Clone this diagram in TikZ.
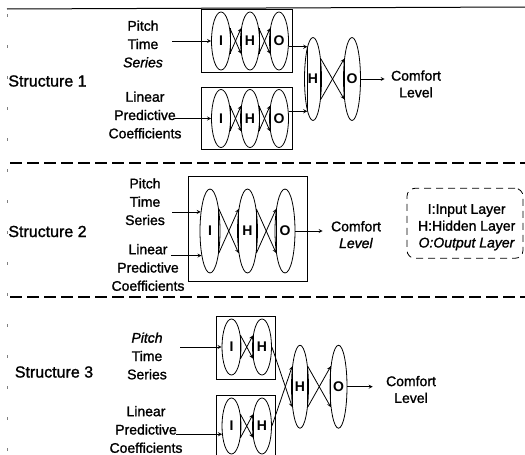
\documentclass[tikz,border=0pt]{standalone}
\usepackage{fontspec}
\setmainfont{Liberation Sans}[UprightFeatures={FakeBold=1.3}, ItalicFeatures={FakeBold=1.3}]
\usetikzlibrary{shapes,arrows,positioning,calc}

\begin{document}
\begin{tikzpicture}[
    x=1pt, y=-1pt,
    line width=0.8pt,
    node distance=29pt,
    every node/.style={align=center},
    txt/.style={font=\fontsize{14}{18.3}\selectfont, inner sep=1pt},
    outtxt/.style={font=\fontsize{14}{16.8}\selectfont, inner sep=1pt},
    structtxt/.style={font=\fontsize{16}{18}\selectfont, inner sep=1pt},
    layer/.style={ellipse, draw, inner sep=0pt, font=\bfseries\fontsize{14}{15}\selectfont},
    smalllayer/.style={layer, minimum width=19pt, minimum height=58pt},
    shortlayer/.style={layer, minimum width=19pt, minimum height=56pt},
    widelayer/.style={layer, minimum width=20pt, minimum height=84pt},
    biglayer/.style={layer, minimum width=17pt, minimum height=83pt},
    netbox/.style={rectangle, draw, inner sep=0pt},
    arrow/.style={->,>=stealth},
    separator/.style={line width=1.4pt, dash pattern=on 12pt off 5pt}
]
\useasboundingbox (0,0) rectangle (525,455);

% Frame and separators
\draw[line width=1pt] (7,9) -- (525,7);
\draw[gray, line width=0.6pt, dash pattern=on 3pt off 28pt] (7,14) -- (7,455);
\draw[separator] (10,163) -- (525,163);
\draw[separator] (10,297) -- (525,297);

% Structure 1
\node[structtxt] (struct1) at (47.5,81) {Structure 1};
\node[txt] (pitch1) at (143,44) {Pitch\\Time\\\textit{Series}};
\node[txt] (lpc1) at (145,115) {Linear\\Predictive\\Coefficients};
\node[netbox, minimum width=91pt, minimum height=63pt] (box1a) at (247.2,40.5) {};
\node[netbox, minimum width=91pt, minimum height=62pt] (box1b) at (247.2,118.2) {};
\node[smalllayer] (i1a) at (221,41) {I};
\node[smalllayer, right of=i1a] (h1a) {H};
\node[smalllayer, right of=h1a] (o1a) {O};
\node[smalllayer, below of=i1a, node distance=77.5pt] (i1b) {I};
\node[smalllayer, right of=i1b] (h1b) {H};
\node[smalllayer, right of=h1b] (o1b) {O};
\node[biglayer] (hb1) at (313,79) {H};
\node[biglayer, right of=hb1, node distance=39pt] (ob1) {O};
\node[outtxt] (comfort1) at (416,84) {Comfort\\Level};

% Structure 2
\node[structtxt] (struct2) at (47.5,231.5) {Structure 2};
\node[txt] (pitch2) at (145,201.7) {Pitch\\Time\\Series};
\node[txt] (lpc2) at (148,267.5) {Linear\\Predictive\\Coefficients};
\node[netbox, minimum width=119.4pt, minimum height=105.7pt] (box2) at (248,228.8) {};
\node[widelayer] (i2) at (210,231) {I};
\node[widelayer, right of=i2, node distance=37.5pt] (h2) {H};
\node[widelayer, right of=h2, node distance=37.5pt] (o2) {O};
\node[outtxt] (comfort2) at (356,234.7) {Comfort\\\textit{Level}};
\node[draw, rounded corners=8pt, dash pattern=on 7pt off 5pt, minimum width=116pt, minimum height=70pt] (legendbox) at (465,223.3) {};
\node[outtxt] (legend) at (466.7,227.3) {I:Input Layer\\H:Hidden Layer\\\textit{O:Output Layer}};

% Structure 3
\node[structtxt] (struct3) at (54,372) {Structure 3};
\node[txt] (pitch3) at (147,356) {\textit{Pitch}\\Time\\Series};
\node[txt] (lpc3) at (146,429.5) {Linear\\Predictive\\Coefficients};
\node[netbox, minimum width=58.3pt, minimum height=62.3pt] (box3a) at (245.8,347.8) {};
\node[netbox, minimum width=58.3pt, minimum height=63pt] (box3b) at (245.8,426.5) {};
\node[shortlayer] (i3a) at (231.5,347) {I};
\node[shortlayer, right of=i3a, node distance=30.5pt] (h3a) {H};
\node[shortlayer, below of=i3a, node distance=79pt] (i3b) {I};
\node[shortlayer, right of=i3b, node distance=30.5pt] (h3b) {H};
\node[biglayer] (hb3) at (300,386.7) {H};
\node[biglayer, right of=hb3, node distance=38.5pt] (ob3) {O};
\node[outtxt] (comfort3) at (411,389.5) {Comfort\\Level};

% Inputs and outputs
\draw[arrow] ([xshift=8pt]pitch1.east |- i1a.west) -- (i1a.west);
\draw[arrow] ([xshift=-8pt]lpc1.east |- i1b.west) -- (i1b.west);
\draw[arrow] (ob1.east) -- ([xshift=-5pt]comfort1.west |- ob1.east);
\draw[arrow] ([xshift=6pt]pitch2.east |- i2.116) -- (i2.116);
\draw[arrow] ([xshift=-15pt]lpc2.east |- i2.251) -- (i2.251);
\draw[arrow] (o2.east) -- ([xshift=-7pt]comfort2.west |- o2.east);
\draw[arrow] ([xshift=12pt]pitch3.east |- i3a.west) -- (i3a.west);
\draw[arrow] ([xshift=-8pt]lpc3.east |- i3b.221) -- (i3b.221);
\draw[arrow] (ob3.east) -- ([xshift=-12pt]comfort3.west |- ob3.east);

% Sub-networks into the joint layer
\draw (hb1.100) -- (hb1.260);
\draw[arrow] (o1a.east |- hb1.100) -- (hb1.100);
\draw[arrow] (o1b.east |- hb1.260) -- (hb1.260);
\draw (hb3.111) -- (hb3.249);
\draw[arrow] (h3a.east) -- (hb3.249);
\draw[arrow] (h3b.east) -- (hb3.111);

% Crossed links between layers
\foreach \a/\b/\p in {i1a/h1a/55, h1a/o1a/55, i1b/h1b/55, h1b/o1b/55, hb1/ob1/69,
                      i2/h2/68, h2/o2/68, i3a/h3a/52, i3b/h3b/52, hb3/ob3/69}{
  \pgfmathtruncatemacro\pa{360-\p}
  \pgfmathtruncatemacro\qa{180-\p}
  \pgfmathtruncatemacro\qb{180+\p}
  \draw (\a.\p) -- (\a.\pa);
  \draw (\b.\qa) -- (\b.\qb);
  \draw[arrow] (\a.\p) -- (\b.\qb);
  \draw[arrow] (\a.\pa) -- (\b.\qa);
}

\end{tikzpicture}
\end{document}
